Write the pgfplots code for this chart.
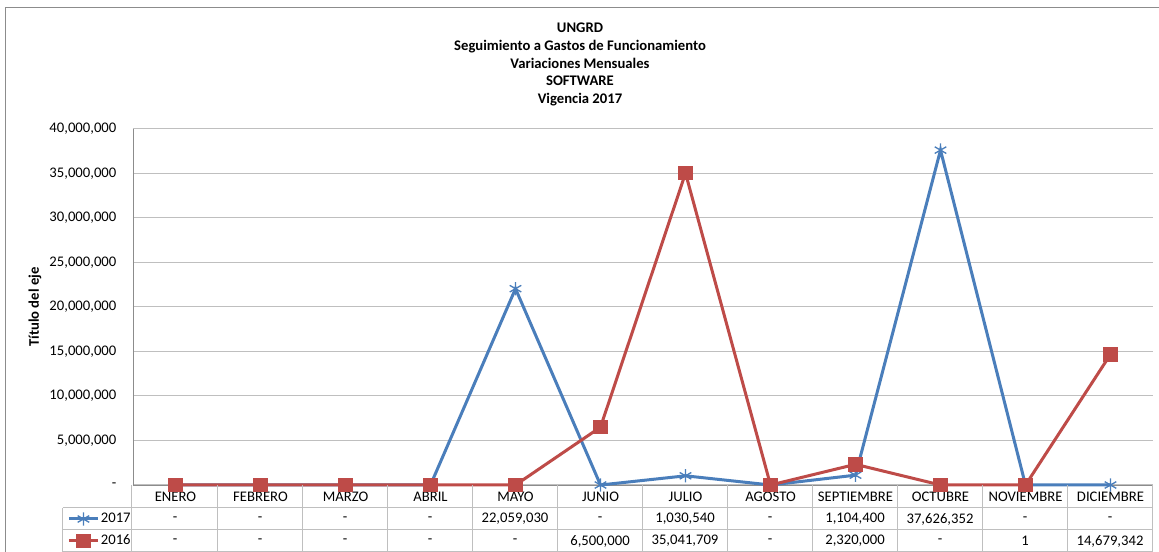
\documentclass[border=0pt]{standalone}
\usepackage{pgfplots}
\pgfplotsset{compat=1.18}
\usepackage{fontspec}
\setmainfont{Carlito}
\definecolor{serieA}{HTML}{4A7EBB}
\definecolor{serieB}{HTML}{BE4B48}
\definecolor{rejilla}{HTML}{BFBFBF}
\definecolor{marco}{HTML}{8C8C8C}
\begin{document}
\begin{tikzpicture}
\useasboundingbox (-99.75pt,363.75pt) rectangle (769.5pt,-50.25pt);
\begin{axis}[
  at={(0,0)}, anchor=south west,
  scale only axis,
  width=765pt, height=267pt,
  xmin=-0.5, xmax=11.5,
  ymin=0, ymax=40000000,
  scaled y ticks=false,
  axis x line*=bottom, axis y line*=left,
  axis line style={draw=marco, -},
  xtick={0,...,11},
  xticklabels={ENERO,FEBRERO,MARZO,ABRIL,MAYO,JUNIO,JULIO,AGOSTO,SEPTIEMBRE,OCTUBRE,NOVIEMBRE,DICIEMBRE},
  ytick={0,5000000,10000000,15000000,20000000,25000000,30000000,35000000,40000000},
  yticklabels={-,{5,000,000},{10,000,000},{15,000,000},{20,000,000},{25,000,000},{30,000,000},{35,000,000},{40,000,000}},
  major tick length=0pt,
  xticklabel style={anchor=center, yshift=-8.6pt, font=\fontsize{11}{13}\selectfont},
  yticklabel style={anchor=east, xshift=-9pt, font=\fontsize{11}{13}\selectfont},
  ymajorgrids, grid style={rejilla, line width=0.75pt},
  ylabel={\textbf{Título del eje}},
  ylabel style={font=\fontsize{11}{13}\selectfont, at={(axis description cs:-0.096,0.5)}, anchor=center},
  clip=false,
  legend style={at={(axis description cs:-0.0647,-0.1264)}, anchor=west, draw=none, fill=none,
    inner sep=0pt, row sep=4.5pt, font=\fontsize{11}{13}\selectfont,
    nodes={inner sep=1pt, text height=8pt, text depth=2pt}},
  legend cell align=left,
  legend image code/.code={\draw[mark repeat=2, mark phase=2, #1] plot coordinates {(0pt,0pt) (11pt,0pt) (22pt,0pt)};},
]
\addplot[serieA, line width=2.25pt, mark=asterisk, mark size=5pt, mark options={line width=1pt}]
  coordinates {(0,0)(1,0)(2,0)(3,0)(4,22059030)(5,0)(6,1030540)(7,0)(8,1104400)(9,37626352)(10,0)(11,0)};
\addlegendentry{2017}
\addplot[serieB, line width=2.25pt, mark=square*, mark size=4.3pt]
  coordinates {(0,0)(1,0)(2,0)(3,0)(4,0)(5,6500000)(6,35041709)(7,0)(8,2320000)(9,0)(10,1)(11,14679342)};
\addlegendentry{2016}
\end{axis}
% titulo
\node[align=center, font=\bfseries\fontsize{11}{13.3}\selectfont] at (335.25pt,315.4pt)
  {UNGRD\\Seguimiento a Gastos de Funcionamiento\\Variaciones Mensuales\\SOFTWARE\\Vigencia 2017};
% marco exterior
\draw[marco, line width=0.75pt] (-95.25pt,-50.25pt) -- (-95.25pt,357.75pt) -- (769.5pt,357.75pt);
% tabla de datos
\begin{scope}[x=0.75pt, y=0.75pt, draw=rejilla, line width=0.75pt]
  \foreach \k in {0,...,12} \draw (-1+85*\k,0) -- (-1+85*\k,-67);
  \draw (-70,-23) -- (1019,-23);
  \draw (-70,-45) -- (1019,-45);
  \draw (-70,-66.5) -- (1019,-66.5);
  \draw (-70,-23) -- (-70,-67);
  \begin{scope}[font=\fontsize{11}{13}\selectfont]
    \foreach \t [count=\i from 0] in {-,-,-,-,{22,059,030},-,{1,030,540},-,{1,104,400},{37,626,352},-,-}
      \node at (42+85*\i,-34) {\t};
    \foreach \t [count=\i from 0] in {-,-,-,-,-,{6,500,000},{35,041,709},-,{2,320,000},-,1,{14,679,342}}
      \node at (42+85*\i,-56) {\t};
  \end{scope}
\end{scope}
\end{tikzpicture}
\end{document}
